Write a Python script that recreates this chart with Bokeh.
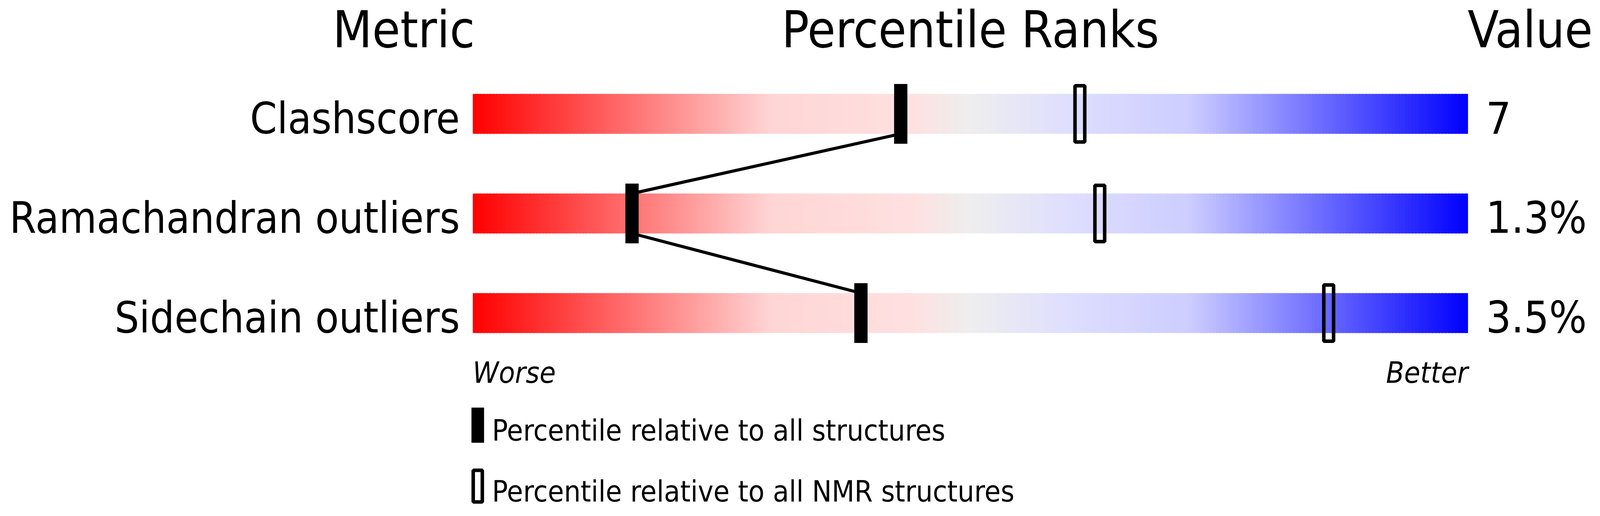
"""
Percentile ranks slider (Clashscore, Ramachandran, Sidechain) drawn with Bokeh.
"""

import numpy as np

from bokeh.core.properties import value
from bokeh.embed import file_html
from bokeh.models import Range1d
from bokeh.plotting import figure
from bokeh.resources import INLINE

# chart data
metrics = ["Clashscore", "Ramachandran outliers", "Sidechain outliers"]
values = ["7", "1.3%", "3.5%"]
pct_all = [43, 16, 39]
pct_nmr = [61, 63, 86]

# layout: horizontal positions are given in reference pixels and squeezed
# into the visible page width, vertical positions are page pixels
VIEW_W, VIEW_H = 4096, 1321
REF_W = 4823
SX = VIEW_W / REF_W
MARGIN = 8
BAR_X0 = 1434 * SX
PX_PER_PCT = 30 * SX
BAR_TOP = [248, 503, 758]
BAR_H = 102
FONT = value("DejaVu Sans Condensed")
# bokeh puts the alphabetic baseline a bit low; lift text by this share of its size
LIFT = 0.36

# gradient stops for the bar background
STOP_POS = [0.0, 0.3, 0.44, 0.5, 0.6, 0.72, 1.0]
STOP_RGB = [
    (255, 0, 0),
    (255, 213, 213),
    (255, 224, 224),
    (238, 238, 238),
    (222, 222, 255),
    (205, 205, 255),
    (0, 0, 255),
]


def to_pct(page_x):
    """Page pixel x -> percentile units of the x range."""
    return (page_x - BAR_X0) / PX_PER_PCT


def ref_pct(ref_x):
    return to_pct(ref_x * SX)


width = VIEW_W - 2 * MARGIN
height = VIEW_H - 2 * MARGIN

p = figure(
    width=width,
    height=height,
    x_range=Range1d(to_pct(MARGIN), to_pct(MARGIN + width)),
    y_range=Range1d(MARGIN + height, MARGIN),
    output_backend="svg",
    toolbar_location=None,
    min_border=0,
)
p.axis.visible = False
p.grid.visible = False
p.outline_line_color = None
p.background_fill_color = "white"
p.border_fill_color = "white"


def add_text(xs, baselines, texts, size, align, style="normal"):
    p.text(
        x=xs,
        y=[b - LIFT * size for b in baselines],
        text=texts,
        text_font=FONT,
        text_font_size=f"{size}px",
        text_font_style=style,
        text_align=align,
        text_baseline="alphabetic",
        text_color="black",
    )


# gradient bars
n_seg = 300
edges = np.linspace(0, 100, n_seg + 1)
mid = (edges[:-1] + edges[1:]) / 2 / 100
rgb = np.array(STOP_RGB, dtype=float)
seg_colors = []
for t in mid:
    r, g, b = (int(round(np.interp(t, STOP_POS, rgb[:, k]))) for k in range(3))
    seg_colors.append(f"#{r:02x}{g:02x}{b:02x}")

step = edges[1] - edges[0]
for top in BAR_TOP:
    p.quad(
        left=edges[:-1],
        right=np.minimum(edges[:-1] + step * 1.6, 100),
        top=[top] * n_seg,
        bottom=[top + BAR_H] * n_seg,
        fill_color=seg_colors,
        line_color=None,
    )

# connecting line between the "all structures" markers
line_x = []
line_y = []
for i, pct in enumerate(pct_all):
    if i > 0:
        line_x.append(pct)
        line_y.append(BAR_TOP[i])
    if i < len(pct_all) - 1:
        line_x.append(pct)
        line_y.append(BAR_TOP[i] + BAR_H)
p.line(line_x, line_y, line_color="black", line_width=8)

centers = [t + BAR_H / 2 for t in BAR_TOP]

p.rect(
    x=pct_all, y=centers, width=40 * SX, height=153,
    width_units="screen", height_units="screen",
    fill_color="black", line_color=None,
)
p.rect(
    x=pct_nmr, y=centers, width=40 * SX - 9, height=144,
    width_units="screen", height_units="screen",
    fill_alpha=0, line_color="black", line_width=9,
)

# headers
add_text([ref_pct(1440)], [130], ["Metric"], 130, "right")
add_text([50], [130], ["Percentile Ranks"], 130, "center")
add_text([to_pct(MARGIN + width - 3)], [130], ["Value"], 130, "right")

# row labels and values
bottoms = [t + BAR_H for t in BAR_TOP]
add_text([ref_pct(1395)] * 3, bottoms, metrics, 110, "right")
add_text([ref_pct(4488)] * 3, bottoms, values, 113, "left")

# worse / better
add_text([0], [988], ["Worse"], 75, "left", "italic")
add_text([100], [988], ["Better"], 75, "right", "italic")

# legend
p.rect(x=[ref_pct(1449)], y=[1096], width=38 * SX, height=90,
       width_units="screen", height_units="screen",
       fill_color="black", line_color=None)
p.rect(x=[ref_pct(1449)], y=[1252], width=38 * SX - 9, height=81,
       width_units="screen", height_units="screen",
       fill_alpha=0, line_color="black", line_width=9)
add_text([ref_pct(1492)] * 2, [1136, 1292],
         ["Percentile relative to all structures",
          "Percentile relative to all NMR structures"], 75, "left")

open("out.html", "w").write(file_html(p, INLINE))
